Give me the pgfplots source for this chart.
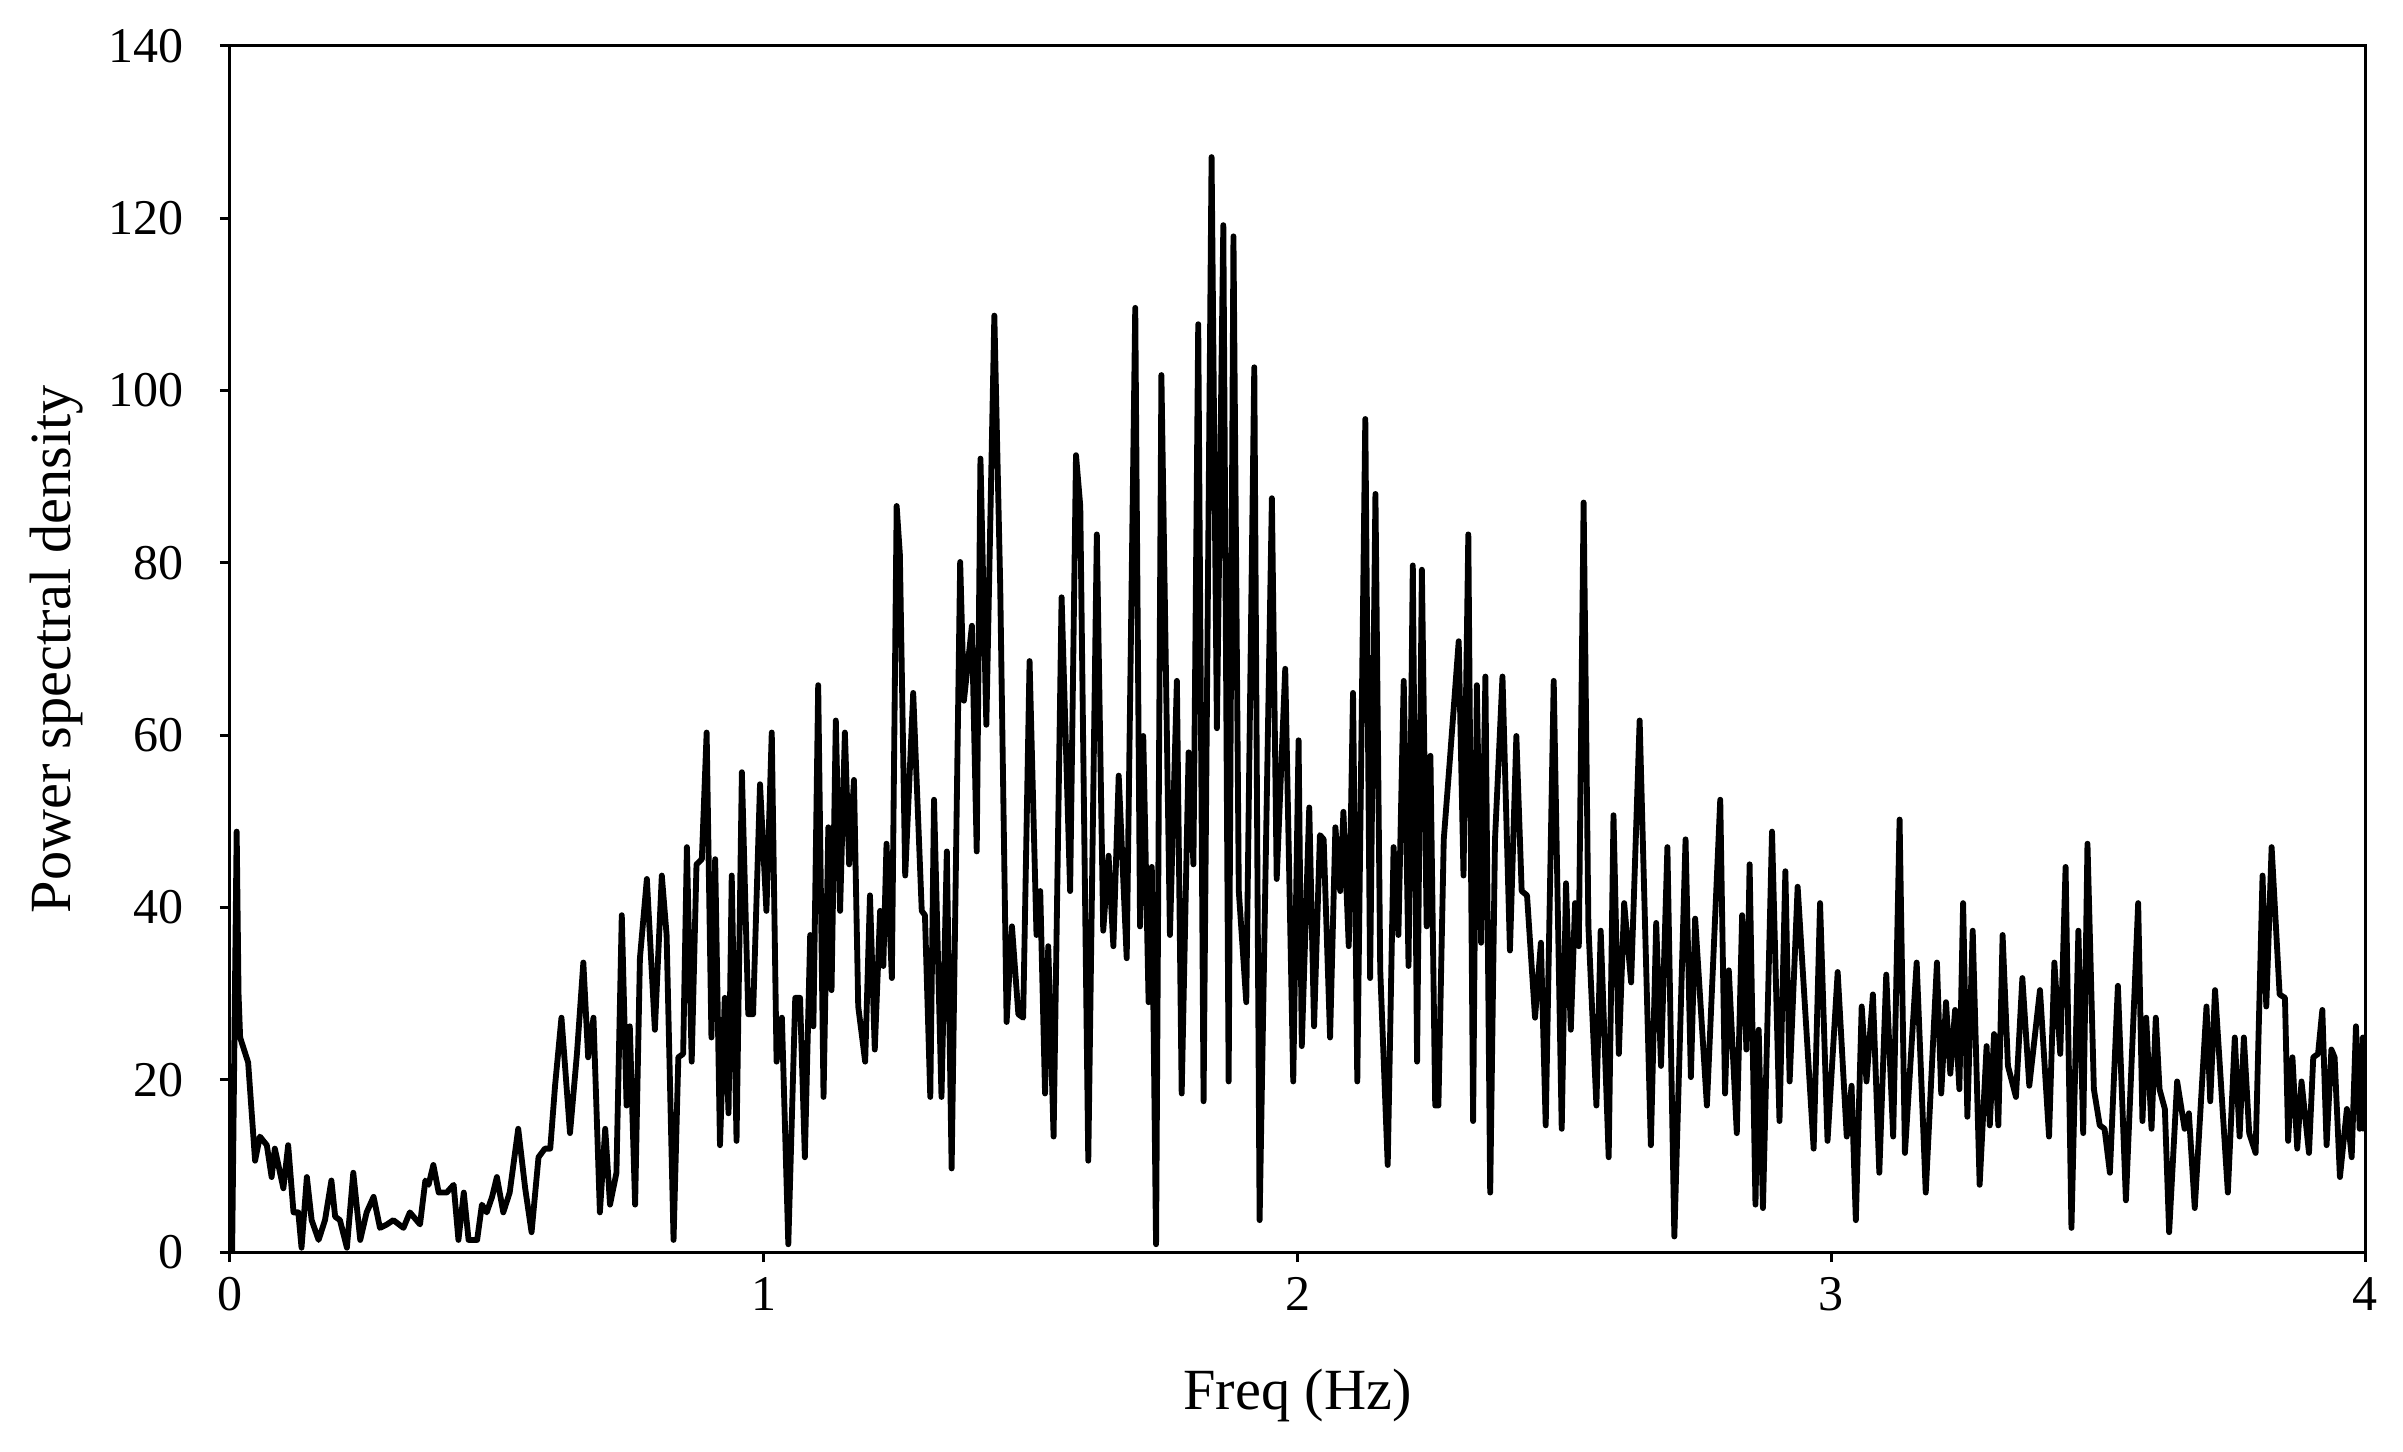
\documentclass[border=0pt]{standalone}
\usepackage{pgfplots}
\pgfplotsset{compat=1.18}
\usepackage{fontspec}
\setmainfont{Liberation Serif}
\pgfplotstableread{
f v
0.004 0
0.0125 48.8
0.016 30
0.019 24.9
0.034 22
0.047 10.6
0.056 13.4
0.069 12.4
0.078 8.7
0.084 12
0.091 10
0.1 7.4
0.109 12.4
0.119 4.6
0.128 4.6
0.134 0.5
0.144 8.7
0.153 3.7
0.166 1.4
0.178 3.7
0.19 8.3
0.197 4.1
0.206 3.7
0.219 0.5
0.231 9.2
0.244 1.4
0.256 4.6
0.269 6.4
0.281 2.8
0.294 3.2
0.306 3.7
0.325 2.8
0.337 4.6
0.356 3.2
0.366 8.3
0.372 7.8
0.381 10.1
0.391 6.9
0.406 6.9
0.419 7.8
0.428 1.4
0.438 6.9
0.447 1.4
0.463 1.4
0.472 5.5
0.481 4.6
0.491 6.4
0.5 8.7
0.512 4.6
0.524 6.9
0.54 14.3
0.553 7.4
0.565 2.3
0.578 11
0.59 12
0.6 12
0.609 19.3
0.621 27.2
0.637 13.8
0.65 23
0.662 33.6
0.671 22.6
0.681 27.2
0.693 4.6
0.703 14.3
0.712 5.5
0.724 9.2
0.734 39.1
0.743 17
0.749 26.2
0.759 5.5
0.768 34.1
0.781 43.3
0.796 25.8
0.809 43.7
0.818 36.8
0.831 1.4
0.84 22.6
0.849 23
0.856 47
0.865 22.1
0.874 45
0.884 45.6
0.893 60.3
0.902 24.9
0.909 45.6
0.918 12.4
0.927 29.5
0.934 16.1
0.94 43.7
0.949 12.9
0.959 55.7
0.971 27.6
0.98 27.6
0.993 54.3
1.005 39.6
1.015 60.3
1.024 22.1
1.034 27.2
1.046 0.9
1.059 29.5
1.068 29.5
1.077 11
1.087 36.8
1.093 26.2
1.102 65.8
1.112 18
1.121 49.3
1.127 30.4
1.135 61.7
1.143 39.6
1.152 60.3
1.16 45
1.169 54.8
1.177 28.5
1.19 22.1
1.199 41.4
1.208 23.5
1.218 39.6
1.224 33.2
1.23 47.4
1.24 31.8
1.249 86.6
1.255 81
1.265 43.7
1.28 64.9
1.296 39.6
1.302 39.1
1.312 18
1.319 52.5
1.333 18
1.343 46.5
1.352 9.7
1.368 80.1
1.375 64
1.39 72.7
1.399 46.5
1.406 92.1
1.417 61.2
1.432 108.7
1.443 77.4
1.455 26.7
1.465 37.8
1.477 27.6
1.486 27.2
1.498 68.6
1.511 36.8
1.518 41.9
1.527 18.4
1.533 35.5
1.543 13.4
1.558 76
1.574 41.9
1.585 92.5
1.593 86.6
1.608 10.6
1.624 83.3
1.636 37.3
1.646 46
1.655 35.5
1.665 55.3
1.68 34.1
1.696 109.6
1.705 37.8
1.711 59.9
1.721 29
1.727 44.7
1.735 0.9
1.745 101.8
1.761 36.8
1.774 66.3
1.783 18.4
1.796 58
1.805 45
1.814 107.7
1.824 17.5
1.839 127.1
1.849 60.8
1.861 119.2
1.871 19.8
1.88 117.9
1.89 41.9
1.904 29
1.919 102.7
1.929 3.7
1.952 87.5
1.961 43.3
1.977 67.7
1.992 19.8
2.002 59.4
2.008 23.9
2.022 51.6
2.031 26.2
2.042 48.4
2.049 47.9
2.061 24.9
2.071 49.3
2.08 41.9
2.086 51.1
2.096 35.5
2.104 64.9
2.112 19.8
2.127 96.7
2.136 31.8
2.146 88
2.155 32.7
2.169 10.1
2.18 47
2.189 36.8
2.199 66.3
2.208 33.2
2.216 79.7
2.224 22.1
2.233 79.2
2.242 37.8
2.249 57.6
2.258 17
2.264 17
2.274 47.9
2.286 57.6
2.302 70.9
2.311 43.7
2.32 83.3
2.329 15.2
2.336 65.8
2.344 35.9
2.352 66.8
2.361 6.9
2.37 47.9
2.384 66.8
2.398 35
2.41 59.9
2.42 41.9
2.43 41.4
2.445 27.2
2.456 35.9
2.465 14.7
2.48 66.3
2.495 14.3
2.503 42.8
2.512 25.8
2.52 40.5
2.527 35.5
2.536 87
2.545 37.8
2.56 17
2.568 37.3
2.583 11
2.592 50.7
2.602 23
2.612 40.5
2.625 31.3
2.641 61.7
2.662 12.4
2.672 38.2
2.681 21.6
2.693 47
2.706 1.8
2.727 47.9
2.737 20.3
2.745 38.7
2.767 17
2.792 52.5
2.801 18.4
2.808 32.7
2.823 13.8
2.833 39.1
2.841 23.5
2.847 45
2.858 5.5
2.864 25.8
2.872 5.1
2.889 48.8
2.903 15.2
2.914 44.2
2.922 19.8
2.937 42.4
2.967 12
2.979 40.5
2.993 12.9
3.012 32.5
3.029 13.4
3.038 19.3
3.046 3.7
3.057 28.5
3.066 19.8
3.078 29.9
3.09 9.2
3.103 32.2
3.116 13.4
3.128 50.2
3.138 11.5
3.16 33.6
3.177 6.9
3.198 33.6
3.206 18.4
3.215 29
3.223 20.7
3.232 28.1
3.24 18.9
3.247 40.5
3.255 15.7
3.265 37.3
3.278 7.8
3.291 23.9
3.297 14.7
3.305 25.3
3.313 14.7
3.321 36.8
3.331 21.6
3.346 18
3.358 31.8
3.371 19.3
3.391 30.4
3.408 13.4
3.418 33.6
3.429 23
3.439 44.7
3.45 2.8
3.463 37.3
3.472 13.8
3.48 47.4
3.492 18.9
3.503 14.7
3.512 14.3
3.522 9.2
3.537 30.9
3.552 6
3.575 40.5
3.583 15.2
3.59 27.2
3.6 14.3
3.608 27.2
3.615 18.9
3.625 16.6
3.633 2.3
3.648 19.8
3.662 14.3
3.67 16.1
3.681 5.1
3.703 28.5
3.71 17.5
3.719 30.4
3.743 6.9
3.756 24.9
3.765 13.4
3.773 24.9
3.783 13.8
3.795 11.5
3.808 43.7
3.815 28.5
3.825 47
3.84 29.9
3.85 29.5
3.856 12.9
3.864 22.6
3.873 12
3.881 19.8
3.895 11.5
3.903 22.6
3.912 23
3.92 28.1
3.928 12.4
3.937 23.5
3.943 22.6
3.953 8.7
3.966 16.6
3.975 11
3.983 26.2
3.99 14.3
3.996 24.9
4.0 14
}\psd
\begin{document}
\begin{tikzpicture}
\begin{axis}[
  scale only axis,
  width=640.5pt, height=361.8pt,
  xmin=0, xmax=4, ymin=0, ymax=140,
  xtick={0,1,2,3,4}, ytick={0,20,...,140},
  tick pos=left, tick align=outside,
  major tick length=3pt,
  every tick/.style={black, line width=0.9pt},
  axis line style={black, line width=0.9pt},
  /pgf/number format/assume math mode=true,
  tick label style={font=\fontsize{15}{17}\selectfont},
  yticklabel style={xshift=-7.5pt},
  xticklabel style={yshift=-1pt},
  xlabel={Freq (Hz)}, ylabel={Power spectral density},
  label style={font=\fontsize{17.5}{20}\selectfont},
  xlabel style={at={(axis description cs:0.5,-0.1186)}, anchor=center},
  ylabel style={at={(axis description cs:-0.0812,0.5)}, anchor=center},
  clip=true,
]
\addplot[black, line width=1.75pt, line join=round] table[x=f, y=v] {\psd};
\coordinate (sw) at (rel axis cs:0,0);
\coordinate (ne) at (rel axis cs:1,1);
\end{axis}
\pgfresetboundingbox
\path[use as bounding box] ([shift={(-69pt,-59.7pt)}]sw) rectangle ([shift={(11.4pt,13.8pt)}]ne);
\end{tikzpicture}
\end{document}
